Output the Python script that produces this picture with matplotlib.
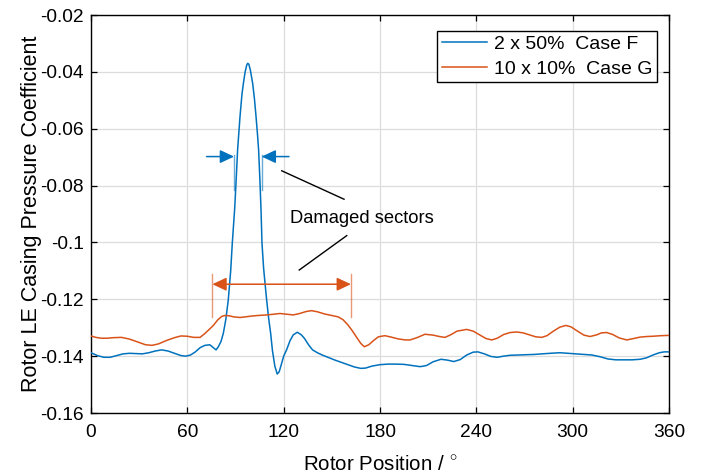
import matplotlib
matplotlib.use("Agg")
import matplotlib.pyplot as plt

# ---------------- data ----------------
blue_x = [0, 4, 8, 12, 16, 20, 24, 28, 32, 36, 40, 44, 48, 52, 56, 59, 62, 65, 68, 71, 74,
          77.9, 79.3, 81, 82.4, 84, 85.5, 87, 88, 89.5, 90.5, 91.3, 92.8, 94, 94.9, 96, 97,
          97.6, 98.3, 99.3, 100.7, 101.8, 102.8, 103.7, 104.4, 105.2, 105.9, 106.5, 107.5,
          108.5, 109.4, 110.6, 111.9, 113, 114.5, 116, 117.2, 118.5, 120, 121.8, 124, 126,
          128.5, 131, 133, 135.5, 138, 141, 144, 148, 152, 156, 160, 164, 168, 171, 175, 180,
          185, 190, 195, 200, 205, 209, 213, 218, 222, 226, 230, 234, 238, 241, 245, 249, 253,
          257, 261, 266, 271, 276, 281, 286, 292, 297, 302, 307, 312, 317, 322, 327, 332, 337,
          342, 346, 350, 354, 357, 360]
blue_y = [-0.1388, -0.1398, -0.1404, -0.1404, -0.1398, -0.1392, -0.1390, -0.1391, -0.1392,
          -0.1388, -0.1382, -0.1378, -0.1382, -0.1390, -0.1398, -0.1400, -0.1396, -0.1385,
          -0.1370, -0.1362, -0.1360, -0.1378, -0.1367, -0.1348, -0.1320, -0.1270, -0.1202,
          -0.1100, -0.1003, -0.0880, -0.0770, -0.0675, -0.0558, -0.0480, -0.0441, -0.0400,
          -0.0376, -0.0370, -0.0373, -0.0395, -0.0441, -0.0495, -0.0558, -0.0620, -0.0675,
          -0.0780, -0.0886, -0.1003, -0.1090, -0.1150, -0.1202, -0.1265, -0.1320, -0.1380,
          -0.1435, -0.1463, -0.1455, -0.1430, -0.1400, -0.1378, -0.1345, -0.1325, -0.1316,
          -0.1325, -0.1338, -0.1360, -0.1378, -0.1388, -0.1396, -0.1405, -0.1414, -0.1422,
          -0.1430, -0.1438, -0.1443, -0.1442, -0.1435, -0.1430, -0.1428, -0.1428, -0.1429,
          -0.1433, -0.1437, -0.1433, -0.1420, -0.1411, -0.1414, -0.1419, -0.1412, -0.1396,
          -0.1386, -0.1385, -0.1392, -0.1401, -0.1404, -0.1400, -0.1397, -0.1396, -0.1395,
          -0.1394, -0.1392, -0.1390, -0.1388, -0.1390, -0.1392, -0.1394, -0.1396, -0.1402,
          -0.1410, -0.1413, -0.1413, -0.1413, -0.1411, -0.1406, -0.1396, -0.1388, -0.1385,
          -0.1385]

orange_x = [0, 3, 6.6, 10, 14, 19, 24, 29, 34, 38, 42, 47, 52, 56, 60, 64, 67.9, 71, 74, 76.2,
            79, 81.5, 83.5, 86, 89, 92.8, 96, 100, 104, 109.4, 113, 117.7, 121, 126, 130, 134,
            137.4, 141, 145.7, 150, 154, 157, 160, 162.4, 165, 168, 170.2, 173, 176, 179, 183,
            187, 191, 195.6, 198.7, 203, 208, 213, 217, 220.5, 224, 228, 234, 238, 242, 246,
            249.6, 253, 257, 261, 265, 269, 273, 277, 280.7, 284, 288, 292, 295.8, 299, 303,
            307, 310.8, 315, 318, 321.2, 325, 329, 333.7, 338, 342, 346.1, 350, 355, 360]
orange_y = [-0.1329, -0.1334, -0.1337, -0.1337, -0.1335, -0.1334, -0.1340, -0.1350, -0.1360,
            -0.1362, -0.1357, -0.1345, -0.1335, -0.1329, -0.1330, -0.1334, -0.1334, -0.1320,
            -0.1304, -0.1292, -0.1272, -0.1260, -0.1257, -0.1258, -0.1262, -0.1264, -0.1262,
            -0.1259, -0.1257, -0.1255, -0.1253, -0.1250, -0.1252, -0.1255, -0.1250, -0.1243,
            -0.1240, -0.1244, -0.1252, -0.1257, -0.1262, -0.1272, -0.1290, -0.1308, -0.1330,
            -0.1355, -0.1367, -0.1360, -0.1345, -0.1332, -0.1328, -0.1333, -0.1339, -0.1343,
            -0.1343, -0.1335, -0.1323, -0.1326, -0.1331, -0.1334, -0.1325, -0.1312, -0.1306,
            -0.1312, -0.1325, -0.1338, -0.1343, -0.1337, -0.1324, -0.1317, -0.1315, -0.1318,
            -0.1325, -0.1332, -0.1334, -0.1328, -0.1312, -0.1298, -0.1292, -0.1297, -0.1312,
            -0.1326, -0.1331, -0.1325, -0.1318, -0.1317, -0.1324, -0.1336, -0.1343, -0.1338,
            -0.1333, -0.1331, -0.1330, -0.1328, -0.1327]

legend_labels = ["2 x 50%  Case F", "10 x 10%  Case G"]
x_ticks = [0, 60, 120, 180, 240, 300, 360]
y_ticks = [-0.16, -0.14, -0.12, -0.1, -0.08, -0.06, -0.04, -0.02]
y_tick_labels = ["-0.16", "-0.14", "-0.12", "-0.1", "-0.08", "-0.06", "-0.04", "-0.02"]

# annotation geometry (data units)
blue_sector = (89.1, 106.3)      # damaged sector edges for case F
blue_arrow_y = -0.0698
blue_arrow_tails = (72.0, 123.3)
blue_bar_y = (-0.0692, -0.0816)
orange_sector = (75.6, 161.9)
orange_arrow_y = -0.1147
orange_bar_y = (-0.1112, -0.1263)
leader1 = ((118.8, -0.0748), (157.6, -0.0848))
leader2 = ((159.3, -0.0976), (129.7, -0.1097))
note_text = "Damaged sectors"
note_pos = (123.9, -0.0931)

BLUE = "#0072BD"
ORANGE = "#D95319"

# ---------------- figure ----------------
plt.rcParams['font.family'] = ['Liberation Sans', 'DejaVu Sans']
plt.rcParams['mathtext.fontset'] = 'custom'
plt.rcParams['mathtext.rm'] = 'Liberation Sans'
FS_TICK = 13.8
FS_XLAB = 14.8
FS_YLAB = 15.5
FS_LEG = 14
FS_NOTE = 13.2

fig = plt.figure(figsize=(7.02, 4.76), dpi=100)
ax = fig.add_axes([91 / 702, 1 - 413 / 476, (669 - 91) / 702, (413 - 15) / 476])

ax.plot(blue_x, blue_y, color=BLUE, lw=1.1, label=legend_labels[0], zorder=3)
ax.plot(orange_x, orange_y, color=ORANGE, lw=1.1, label=legend_labels[1], zorder=3)

ax.set_xlim(0, 360)
ax.set_ylim(-0.16, -0.02)
ax.set_xticks(x_ticks)
ax.set_yticks(y_ticks)
ax.set_yticklabels(y_tick_labels)
ax.grid(True, color="#dcdcdc", lw=0.9)
ax.set_axisbelow(True)
for s in ax.spines.values():
    s.set_linewidth(1.0)
    s.set_color("black")
ax.tick_params(direction='in', length=4.5, width=0.9, top=True, right=True,
               labelsize=FS_TICK, colors='black')
ax.tick_params(axis='x', pad=8)
ax.tick_params(axis='y', pad=5)

ax.set_xlabel("Rotor Position / $^{\\circ}$", fontsize=FS_XLAB, labelpad=10)
ax.set_ylabel("Rotor LE Casing Pressure Coefficient", fontsize=FS_YLAB, labelpad=-1)

# blue sector markers
for xs in blue_sector:
    ax.plot([xs, xs], list(blue_bar_y), color=BLUE, alpha=0.6, lw=1.0, zorder=4)
ax.annotate("", xy=(blue_sector[0], blue_arrow_y), xytext=(blue_arrow_tails[0], blue_arrow_y),
            arrowprops=dict(arrowstyle="-|>,head_length=0.85,head_width=0.4", color=BLUE,
                            lw=1.1, shrinkA=0, shrinkB=0, mutation_scale=10))
ax.annotate("", xy=(blue_sector[1], blue_arrow_y), xytext=(blue_arrow_tails[1], blue_arrow_y),
            arrowprops=dict(arrowstyle="-|>,head_length=0.85,head_width=0.4", color=BLUE,
                            lw=1.1, shrinkA=0, shrinkB=0, mutation_scale=10))

# orange sector markers
for xs in orange_sector:
    ax.plot([xs, xs], list(orange_bar_y), color=ORANGE, alpha=0.6, lw=1.0, zorder=4)
ax.annotate("", xy=(orange_sector[1], orange_arrow_y), xytext=(orange_sector[0], orange_arrow_y),
            arrowprops=dict(arrowstyle="<|-|>,head_length=0.85,head_width=0.4", color=ORANGE,
                            lw=1.1, shrinkA=0, shrinkB=0, mutation_scale=10))

# leader lines and text
for (p0, p1) in (leader1, leader2):
    ax.plot([p0[0], p1[0]], [p0[1], p1[1]], color='black', lw=1.0, zorder=4)
ax.text(note_pos[0], note_pos[1], note_text, fontsize=FS_NOTE, ha='left', va='baseline')

leg = ax.legend(loc='upper right', bbox_to_anchor=(657 / 702, 1 - 31 / 476),
                bbox_transform=fig.transFigure, fontsize=FS_LEG, frameon=True, fancybox=False,
                edgecolor='black', framealpha=1, handlelength=2.35, handletextpad=0.35,
                labelspacing=0.38, borderpad=0.22, borderaxespad=0)
leg.get_frame().set_linewidth(1.0)

fig.savefig("out.png", dpi=100)
